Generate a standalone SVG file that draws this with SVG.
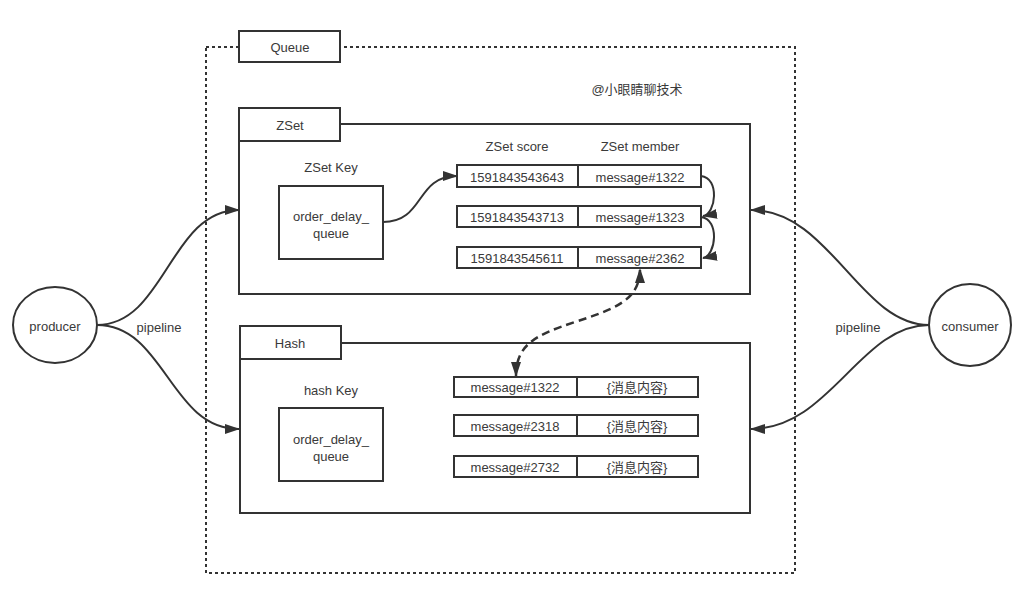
<svg xmlns="http://www.w3.org/2000/svg" width="1028" height="596" viewBox="0 0 1028 596">
<style>
text{font-family:"Liberation Sans","Noto Sans CJK SC",sans-serif;font-size:13px;fill:#3a3a3a;text-anchor:middle;dominant-baseline:central}
.box{fill:#fff;stroke:#333;stroke-width:2}
.line{fill:none;stroke:#333;stroke-width:2}
.dash{fill:none;stroke:#333;stroke-width:2.5;stroke-dasharray:8 5}
</style>
<defs>
<marker id="ah" markerUnits="userSpaceOnUse" markerWidth="16" markerHeight="12" refX="14" refY="6" orient="auto-start-reverse" viewBox="0 0 16 12">
<path d="M0,1 L15,6 L0,11 Z" fill="#333"/>
</marker>
</defs>
<rect width="1028" height="596" fill="#fff"/>
<g id="queue">
<rect x="206" y="47" width="589" height="526" fill="none" stroke="#333" stroke-width="2" stroke-dasharray="3 3"/>
<rect class="box" x="239" y="31" width="101" height="31"/>
<text x="290" y="47">Queue</text>
<text x="637" y="89">@小眼睛聊技术</text>
</g>
<g id="zset">
<rect class="box" x="239" y="124" width="511" height="170"/>
<rect class="box" x="239" y="108" width="101" height="33"/>
<text x="290" y="125">ZSet</text>
<text x="331" y="167">ZSet Key</text>
<rect class="box" x="279" y="186" width="104" height="73"/>
<text x="331" y="216">order_delay_</text>
<text x="331" y="233">queue</text>
<text x="517" y="146">ZSet score</text>
<text x="640" y="146">ZSet member</text>
<rect class="box" x="457" y="165" width="244" height="22"/>
<line class="line" x1="578" y1="165" x2="578" y2="187"/>
<text x="517" y="177">1591843543643</text>
<text x="640" y="177">message#1322</text>
<rect class="box" x="457" y="206" width="244" height="21"/>
<line class="line" x1="578" y1="206" x2="578" y2="227"/>
<text x="517" y="217">1591843543713</text>
<text x="640" y="217">message#1323</text>
<rect class="box" x="457" y="247" width="244" height="21"/>
<line class="line" x1="578" y1="247" x2="578" y2="268"/>
<text x="517" y="258">1591843545611</text>
<text x="640" y="258">message#2362</text>
</g>
<g id="hash">
<rect class="box" x="240" y="343" width="510" height="170"/>
<rect class="box" x="240" y="326" width="101" height="33"/>
<text x="290" y="343">Hash</text>
<text x="331" y="390">hash Key</text>
<rect class="box" x="279" y="408" width="104" height="73"/>
<text x="331" y="439">order_delay_</text>
<text x="331" y="456">queue</text>
<rect class="box" x="454" y="377" width="244" height="20"/>
<line class="line" x1="577" y1="377" x2="577" y2="397"/>
<text x="515" y="387">message#1322</text>
<text x="637" y="387">{消息内容}</text>
<rect class="box" x="454" y="415" width="244" height="21"/>
<line class="line" x1="577" y1="415" x2="577" y2="436"/>
<text x="515" y="426">message#2318</text>
<text x="637" y="426">{消息内容}</text>
<rect class="box" x="454" y="456" width="244" height="21"/>
<line class="line" x1="577" y1="456" x2="577" y2="477"/>
<text x="515" y="467">message#2732</text>
<text x="637" y="467">{消息内容}</text>
</g>
<g id="producer">
<ellipse class="box" cx="55" cy="325" rx="42" ry="38"/>
<text x="55" y="326">producer</text>
</g>
<g id="consumer">
<circle class="box" cx="970" cy="325" r="41"/>
<text x="970" y="326">consumer</text>
</g>
<g id="connectors">
<path class="line" d="M97,325 C165,325 170,210 239,210" marker-end="url(#ah)"/>
<path class="line" d="M97,325 C165,325 170,429 239,429" marker-end="url(#ah)"/>
<text x="159" y="327">pipeline</text>
<path class="line" d="M929,325 C860,325 830,210 751,210" marker-end="url(#ah)"/>
<path class="line" d="M929,325 C860,325 830,429 751,429" marker-end="url(#ah)"/>
<text x="858" y="327">pipeline</text>
<path class="line" d="M383,222 C425,222 415,176 457,176" marker-end="url(#ah)"/>
<path class="line" d="M701,176 C720,178 716,214 703,216" marker-end="url(#ah)"/>
<path class="line" d="M701,217 C720,219 716,256 703,258" marker-end="url(#ah)"/>
<path class="dash" d="M516,376 C516,345 535,335 575,322 C615,309 640,300 640,269" marker-start="url(#ah)" marker-end="url(#ah)"/>
</g>
</svg>
